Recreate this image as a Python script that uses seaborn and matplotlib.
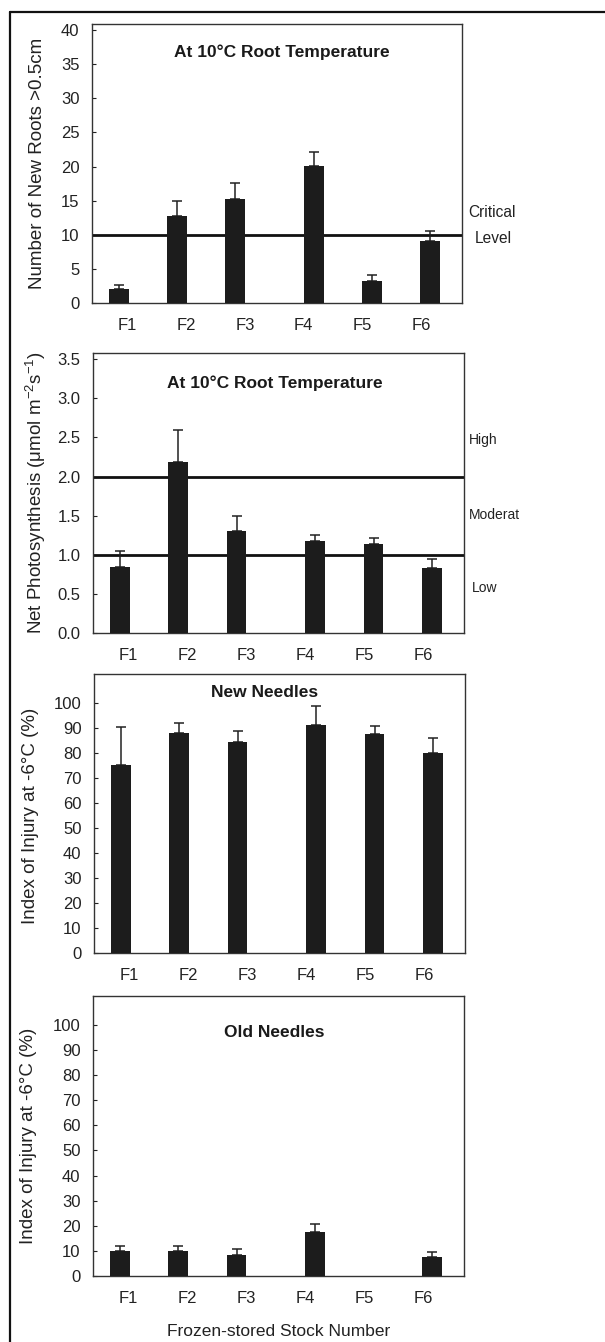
import numpy as np
import matplotlib
matplotlib.use("Agg")
import matplotlib.pyplot as plt
from matplotlib.lines import Line2D
import seaborn as sns

# ---------------- data ----------------
stocks = ["F1", "F2", "F3", "F4", "F5", "F6"]

roots_mean = [2.0, 12.7, 15.3, 20.1, 3.2, 9.1]
roots_upper = [2.6, 14.9, 17.6, 22.2, 4.1, 10.6]
roots_critical = 10.0

photo_mean = [0.85, 2.18, 1.30, 1.18, 1.14, 0.83]
photo_upper = [1.05, 2.60, 1.50, 1.25, 1.22, 0.94]
photo_levels = [1.0, 2.0]

new_mean = [75.3, 88.0, 84.4, 91.2, 87.7, 80.0]
new_upper = [90.3, 92.0, 88.7, 99.0, 91.0, 86.0]

old_mean = [10.0, 10.0, 8.4, 17.4, 0.0, 7.4]
old_upper = [12.1, 12.0, 10.6, 20.6, np.nan, 9.4]

roots_ticks = [0, 5, 10, 15, 20, 25, 30, 35, 40]
photo_ticks = [0.0, 0.5, 1.0, 1.5, 2.0, 2.5, 3.0, 3.5]
injury_ticks = [0, 10, 20, 30, 40, 50, 60, 70, 80, 90, 100]

# ---------------- style ----------------
sns.set_theme(style="white")
plt.rcParams["font.family"] = ["Liberation Sans", "DejaVu Sans"]
plt.rcParams["mathtext.fontset"] = "custom"
plt.rcParams["mathtext.rm"] = "Liberation Sans"
plt.rcParams["mathtext.it"] = "Liberation Sans:italic"
plt.rcParams["mathtext.bf"] = "Liberation Sans:bold"

BAR = "#1c1c1c"
TICK_FS = 12
LAB_FS = 13.5
TITLE_FS = 12.5
SIDE_FS = 10

# layout: bars have a gap between F3 and F4, labels are evenly spaced
xpos = np.array([0, 1, 2, 3.35, 4.35, 5.35])
label_pos = np.linspace(0.15, 5.2, 6)
XLIM = (-0.46, 5.9)

fig = plt.figure(figsize=(6.05, 13.42), dpi=100)

W = 605.0
H = 1342.0


def make_ax(left, right, top, bottom):
    return fig.add_axes([left / W, 1 - bottom / H, (right - left) / W, (bottom - top) / H])


def draw_panel(ax, means, uppers, ticks, ylim, ticklabels=None):
    sns.barplot(x=xpos, y=means, native_scale=True, width=0.34, color=BAR,
                saturation=1, errorbar=None, ax=ax, zorder=3, linewidth=0)
    up = np.asarray(uppers, dtype=float)
    m = np.asarray(means, dtype=float)
    ok = ~np.isnan(up)
    err = np.vstack([np.zeros(ok.sum()), up[ok] - m[ok]])
    ax.errorbar(xpos[ok], m[ok], yerr=err, fmt="none", ecolor="#222222",
                elinewidth=1.1, capsize=3.6, capthick=1.1, zorder=2)
    ax.set_xlim(*XLIM)
    ax.set_ylim(*ylim)
    ax.set_xticks(label_pos)
    ax.set_xticklabels(stocks, fontsize=TICK_FS)
    ax.set_yticks(ticks)
    if ticklabels is None:
        ticklabels = [str(t) for t in ticks]
    ax.set_yticklabels(ticklabels, fontsize=TICK_FS)
    ax.tick_params(axis="y", direction="in", length=3, width=0.8, left=True, pad=9, colors="#222222")
    ax.tick_params(axis="x", length=0, pad=11, colors="#222222")
    for s in ax.spines.values():
        s.set_visible(True)
        s.set_color("#333333")
        s.set_linewidth(1.0)
    ax.set_xlabel("")


# Panel 1 : new roots
ax1 = make_ax(92, 462, 24, 303)
ax1.axhline(roots_critical, color="#111111", lw=2.0, zorder=1)
draw_panel(ax1, roots_mean, roots_upper, roots_ticks, (0, 40.9))
ax1.set_ylabel("Number of New Roots >0.5cm", fontsize=LAB_FS, color="#222222")
ax1.yaxis.set_label_coords(-0.125, 0.5)
ax1.text(0.514, 0.90, "At 10°C Root Temperature", transform=ax1.transAxes,
         ha="center", va="center", fontsize=TITLE_FS, fontweight="bold", color="#1a1a1a")
ytr = ax1.get_yaxis_transform()
ax1.text(1.018, 13.3, "Critical", transform=ytr, ha="left", va="center", fontsize=11.2, color="#222222")
ax1.text(1.035, 9.5, "Level", transform=ytr, ha="left", va="center", fontsize=11.2, color="#222222")

# Panel 2 : photosynthesis
ax2 = make_ax(93, 464, 353, 633)
for lv in photo_levels:
    ax2.axhline(lv, color="#111111", lw=2.0, zorder=1)
draw_panel(ax2, photo_mean, photo_upper, photo_ticks, (0, 3.58),
           ticklabels=[f"{t:.1f}" for t in photo_ticks])
ax2.set_ylabel("Net Photosynthesis (μmol m$^{-2}$s$^{-1}$)", fontsize=LAB_FS, color="#222222")
ax2.yaxis.set_label_coords(-0.12, 0.5)
ax2.text(0.49, 0.893, "At 10°C Root Temperature", transform=ax2.transAxes,
         ha="center", va="center", fontsize=TITLE_FS, fontweight="bold", color="#1a1a1a")
ytr = ax2.get_yaxis_transform()
ax2.text(1.014, 2.47, "High", transform=ytr, ha="left", va="center", fontsize=SIDE_FS, color="#222222")
ax2.text(1.014, 1.51, "Moderat", transform=ytr, ha="left", va="center", fontsize=SIDE_FS, color="#222222")
ax2.text(1.02, 0.575, "Low", transform=ytr, ha="left", va="center", fontsize=SIDE_FS, color="#222222")

# Panel 3 : new needles
ax3 = make_ax(94, 465, 674, 953)
draw_panel(ax3, new_mean, new_upper, injury_ticks, (0, 111.7))
ax3.set_ylabel("Index of Injury at -6°C (%)", fontsize=LAB_FS, color="#222222")
ax3.yaxis.set_label_coords(-0.147, 0.49)
ax3.text(0.461, 0.935, "New Needles", transform=ax3.transAxes,
         ha="center", va="center", fontsize=TITLE_FS, fontweight="bold", color="#1a1a1a")

# Panel 4 : old needles
ax4 = make_ax(93, 464, 996, 1276)
draw_panel(ax4, old_mean, old_upper, injury_ticks, (0, 111.5))
ax4.set_ylabel("Index of Injury at -6°C (%)", fontsize=LAB_FS, color="#222222")
ax4.yaxis.set_label_coords(-0.15, 0.5)
ax4.text(0.488, 0.871, "Old Needles", transform=ax4.transAxes,
         ha="center", va="center", fontsize=TITLE_FS, fontweight="bold", color="#1a1a1a")

fig.text(279 / W, 1 - 1332 / H, "Frozen-stored Stock Number", ha="center", va="center",
         fontsize=12.5, color="#222222")

# outer frame (left and top edges)
fig.add_artist(Line2D([10 / W, 10 / W], [0, 1 - 12 / H], transform=fig.transFigure, color="#111111", lw=1.6))
fig.add_artist(Line2D([10 / W, 1.0], [1 - 12 / H, 1 - 12 / H], transform=fig.transFigure, color="#111111", lw=1.6))

fig.savefig("out.png", dpi=100)
